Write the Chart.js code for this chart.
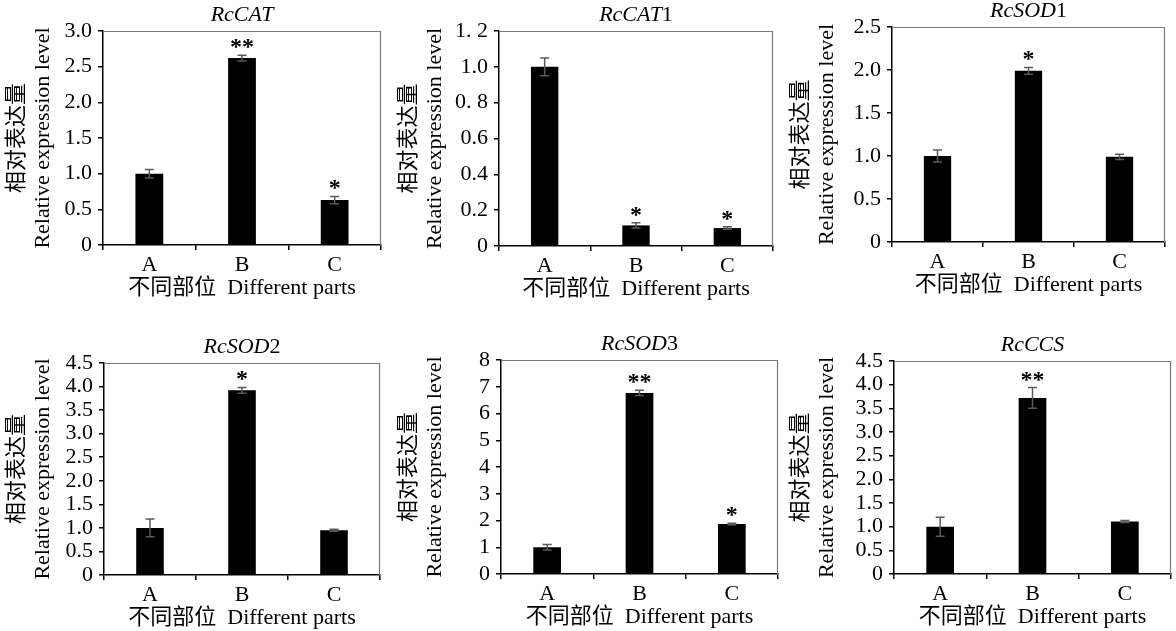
<!DOCTYPE html>
<html>
<head>
<meta charset="utf-8">
<script src="https://cdn.jsdelivr.net/npm/chart.js@4.4.1/dist/chart.umd.min.js"></script>
<style>
body { margin: 0; background: #fff; }
#figure { position: relative; width: 1176px; height: 631px; overflow: hidden; background: #fff; }
#figure canvas { position: absolute; }
</style>
</head>
<body>
<div id="figure"></div>
<script>
const categories = ["A", "B", "C"];

// RcCAT
const valeursCAT = [1.0, 2.62, 0.63];
const erreursCAT = [0.06, 0.04, 0.05];
const etoilesCAT = ["", "**", "*"];
const ticksCAT = ["0", "0.5", "1.0", "1.5", "2.0", "2.5", "3.0"];

// RcCAT1
const valeursCAT1 = [1.0, 0.115, 0.10];
const erreursCAT1 = [0.05, 0.015, 0.007];
const etoilesCAT1 = ["", "*", "*"];
const ticksCAT1 = ["0", "0.2", "0.4", "0.6", "0. 8", "1.0", "1. 2"];

// RcSOD1
const valeursSOD1 = [1.0, 1.99, 0.99];
const erreursSOD1 = [0.07, 0.04, 0.03];
const etoilesSOD1 = ["", "*", ""];
const ticksSOD1 = ["0", "0.5", "1.0", "1.5", "2.0", "2.5"];

// RcSOD2
const valeursSOD2 = [1.0, 3.92, 0.95];
const erreursSOD2 = [0.19, 0.06, 0.02];
const etoilesSOD2 = ["", "*", ""];
const ticksSOD2 = ["0", "0.5", "1.0", "1.5", "2.0", "2.5", "3.0", "3.5", "4.0", "4.5"];

// RcSOD3
const valeursSOD3 = [1.0, 6.77, 1.87];
const erreursSOD3 = [0.1, 0.1, 0.03];
const etoilesSOD3 = ["", "**", "*"];
const ticksSOD3 = ["0", "1", "2", "3", "4", "5", "6", "7", "8"];

// RcCCS
const valeursCCS = [1.0, 3.72, 1.11];
const erreursCCS = [0.2, 0.22, 0.02];
const etoilesCCS = ["", "**", ""];
const ticksCCS = ["0", "0.5", "1.0", "1.5", "2.0", "2.5", "3.0", "3.5", "4.0", "4.5"];

const titreAxeY = ["相对表达量", "Relative expression level"];
const titreAxeX = "不同部位  Different parts";

const panneaux = [
    { nom: "RcCAT", suffixe: "", valeurs: valeursCAT, erreurs: erreursCAT, etoiles: etoilesCAT, ticks: ticksCAT, max: 3, pas: 0.5 },
    { nom: "RcCAT", suffixe: "1", valeurs: valeursCAT1, erreurs: erreursCAT1, etoiles: etoilesCAT1, ticks: ticksCAT1, max: 1.2, pas: 0.2 },
    { nom: "RcSOD", suffixe: "1", valeurs: valeursSOD1, erreurs: erreursSOD1, etoiles: etoilesSOD1, ticks: ticksSOD1, max: 2.5, pas: 0.5 },
    { nom: "RcSOD", suffixe: "2", valeurs: valeursSOD2, erreurs: erreursSOD2, etoiles: etoilesSOD2, ticks: ticksSOD2, max: 4.5, pas: 0.5 },
    { nom: "RcSOD", suffixe: "3", valeurs: valeursSOD3, erreurs: erreursSOD3, etoiles: etoilesSOD3, ticks: ticksSOD3, max: 8, pas: 1 },
    { nom: "RcCCS", suffixe: "", valeurs: valeursCCS, erreurs: erreursCCS, etoiles: etoilesCCS, ticks: ticksCCS, max: 4.5, pas: 0.5 }
];

// placement of each canvas on the page + plot area inside it
const placements = [
    { x: 0, y: 0, largeurY: 103, haut: 31, droite: 11, bas: 245 },
    { x: 392, y: 0, largeurY: 107, haut: 31, droite: 11, bas: 246 },
    { x: 784, y: 0, largeurY: 108, haut: 27, droite: 11, bas: 242 },
    { x: 0, y: 318, largeurY: 104, haut: 45, droite: 12, bas: 257 },
    { x: 392, y: 318, largeurY: 109, haut: 42, droite: 6, bas: 256 },
    { x: 784, y: 318, largeurY: 110, haut: 43, droite: 5, bas: 256 }
];

const HAUTEUR_X = 55;
const SERIF = "'Liberation Serif', 'Noto Sans CJK SC', serif";

const pluginDessin = {
    id: "dessin",
    afterDatasetsDraw(chart, args, opts) {
        const ctx = chart.ctx;
        const zone = chart.chartArea;
        const echelleY = chart.scales.y;
        const meta = chart.getDatasetMeta(0);

        ctx.save();
        // cadre haut et droite
        ctx.strokeStyle = "#7a7a7a";
        ctx.lineWidth = 1.2;
        ctx.beginPath();
        ctx.moveTo(zone.left, zone.top + 0.5);
        ctx.lineTo(zone.right - 0.5, zone.top + 0.5);
        ctx.lineTo(zone.right - 0.5, zone.bottom);
        ctx.stroke();

        // barres d'erreur
        ctx.strokeStyle = "#5a5a5a";
        ctx.lineWidth = 1.5;
        opts.valeurs.forEach(function(v, i) {
            const cx = meta.data[i].x;
            const yHaut = echelleY.getPixelForValue(v + opts.erreurs[i]);
            const yBas = echelleY.getPixelForValue(v - opts.erreurs[i]);
            ctx.beginPath();
            ctx.moveTo(cx, yHaut);
            ctx.lineTo(cx, yBas);
            ctx.moveTo(cx - 4.5, yHaut);
            ctx.lineTo(cx + 4.5, yHaut);
            ctx.moveTo(cx - 4.5, yBas);
            ctx.lineTo(cx + 4.5, yBas);
            ctx.stroke();

            if (opts.etoiles[i]) {
                ctx.fillStyle = "#000";
                ctx.font = "bold 24px " + SERIF;
                ctx.textAlign = "center";
                ctx.textBaseline = "alphabetic";
                ctx.fillText(opts.etoiles[i], cx, yHaut - 1);
            }
        });

        // titre : nom en italique + chiffre droit
        ctx.fillStyle = "#000";
        ctx.textBaseline = "middle";
        ctx.textAlign = "left";
        const policeItalique = "italic 22px " + SERIF;
        const policeDroite = "22px " + SERIF;
        ctx.font = policeItalique;
        const l1 = ctx.measureText(opts.nom).width;
        ctx.font = policeDroite;
        const l2 = ctx.measureText(opts.suffixe).width;
        const debut = (zone.left + zone.right) / 2 - (l1 + l2) / 2;
        const yTitre = zone.top - 16;
        ctx.font = policeItalique;
        ctx.fillText(opts.nom, debut, yTitre);
        ctx.font = policeDroite;
        ctx.fillText(opts.suffixe, debut + l1, yTitre);
        ctx.restore();
    }
};

function creerGraphique(panneau, place) {
    const canvas = document.createElement("canvas");
    const hauteur = place.bas + HAUTEUR_X;
    canvas.width = 392;
    canvas.height = hauteur;
    canvas.style.left = place.x + "px";
    canvas.style.top = place.y + "px";
    canvas.style.width = "392px";
    canvas.style.height = hauteur + "px";
    document.getElementById("figure").appendChild(canvas);

    new Chart(canvas, {
        type: "bar",
        data: {
            labels: categories,
            datasets: [{
                data: panneau.valeurs,
                backgroundColor: "#000",
                borderWidth: 0,
                barPercentage: 0.3,
                categoryPercentage: 1
            }]
        },
        options: {
            responsive: false,
            animation: false,
            devicePixelRatio: 1,
            layout: {
                padding: { left: 0, top: place.haut, right: place.droite, bottom: 0 }
            },
            plugins: {
                legend: { display: false },
                tooltip: { enabled: false },
                dessin: {
                    valeurs: panneau.valeurs,
                    erreurs: panneau.erreurs,
                    etoiles: panneau.etoiles,
                    nom: panneau.nom,
                    suffixe: panneau.suffixe
                }
            },
            scales: {
                x: {
                    grid: {
                        offset: true,
                        drawOnChartArea: false,
                        drawTicks: true,
                        tickLength: 5,
                        color: "#000",
                        lineWidth: 1.5
                    },
                    border: { color: "#000", width: 1.5 },
                    ticks: {
                        color: "#000",
                        padding: 2,
                        autoSkip: false,
                        maxRotation: 0,
                        font: { family: SERIF, size: 22 }
                    },
                    title: {
                        display: true,
                        text: titreAxeX,
                        color: "#000",
                        padding: { top: 0, bottom: 0 },
                        font: { family: SERIF, size: 22, lineHeight: 1.1 }
                    },
                    afterFit: function(scale) {
                        scale.height = HAUTEUR_X;
                    }
                },
                y: {
                    min: 0,
                    max: panneau.max,
                    grid: {
                        drawOnChartArea: false,
                        drawTicks: true,
                        tickLength: 5,
                        color: "#000",
                        lineWidth: 1.5
                    },
                    border: { color: "#000", width: 1.5 },
                    ticks: {
                        stepSize: panneau.pas,
                        autoSkip: false,
                        color: "#000",
                        padding: 6,
                        font: { family: SERIF, size: 22 },
                        callback: function(valeur, index) {
                            return panneau.ticks[index];
                        }
                    },
                    title: {
                        display: true,
                        text: titreAxeY,
                        color: "#000",
                        padding: { top: 4, bottom: 0 },
                        font: { family: SERIF, size: 22, lineHeight: 1.2 }
                    },
                    afterFit: function(scale) {
                        scale.width = place.largeurY;
                    }
                }
            }
        },
        plugins: [pluginDessin]
    });
}

panneaux.forEach(function(panneau, i) {
    creerGraphique(panneau, placements[i]);
});
</script>
</body>
</html>
